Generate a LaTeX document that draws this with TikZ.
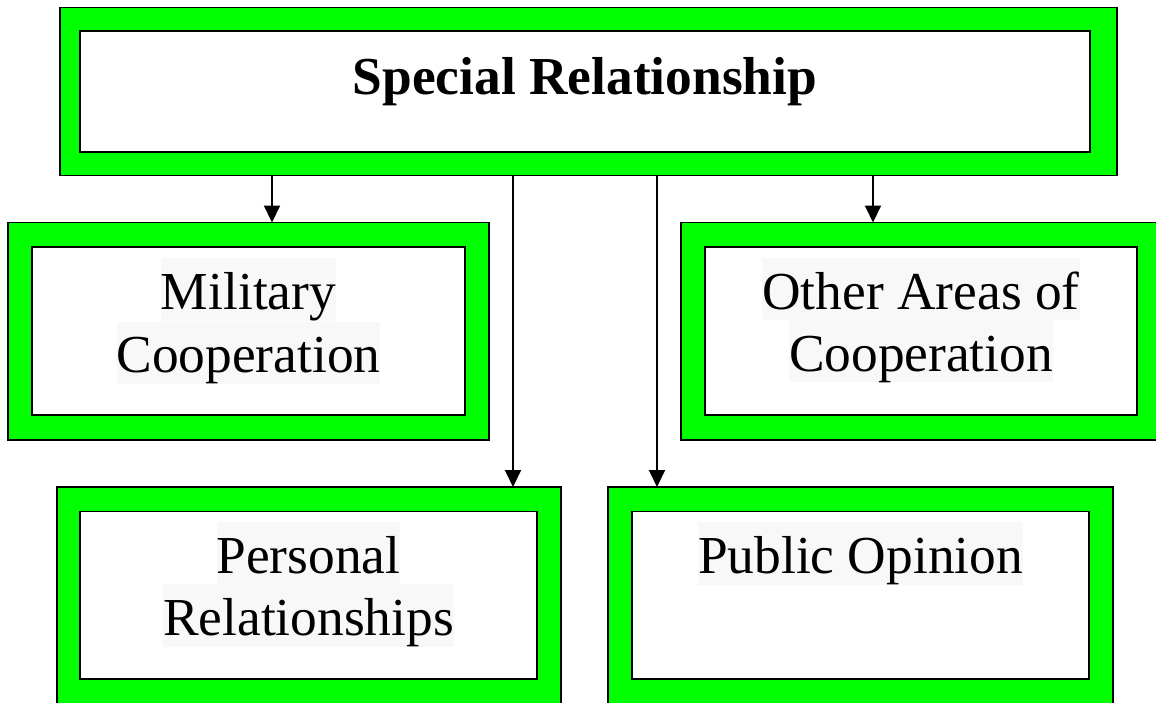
\documentclass[tikz,border=0pt]{standalone}
\usepackage{fontspec}
\setmainfont{Liberation Serif}
\usetikzlibrary{arrows.meta}
\definecolor{boxgreen}{RGB}{0,255,0}
\definecolor{textbg}{RGB}{248,248,248}
\newcommand\hlline[1]{{\setlength\fboxsep{0pt}\colorbox{textbg}{\rule[-11pt]{0pt}{62pt}#1}}}
\tikzset{
  frame/.style={draw=black, line width=1.6pt, fill=boxgreen, rectangle, inner sep=0pt, outer sep=0pt},
  innerbox/.style={draw=black, line width=1.6pt, fill=white, rectangle, inner sep=0pt, outer sep=0pt},
  boxtext/.style={inner sep=0pt, outer sep=0pt, align=center, font=\fontsize{53.4}{62}\selectfont},
  arr/.style={line width=2pt, -{Triangle[length=17pt,width=16pt]}}
}
\begin{document}
\begin{tikzpicture}[x=1pt,y=-1pt]
\useasboundingbox (0,0) rectangle (1156,702);
\clip (0,0) rectangle (1156,702);
% top box
\node[frame, minimum width=1057pt, minimum height=168pt] (sr) at (588.5,91.5) {};
\node[innerbox, minimum width=1010pt, minimum height=121pt] (srin) at (585,91.5) {};
\node[inner sep=0pt, anchor=base, font=\fontsize{53.4}{62}\selectfont\bfseries] (srt) at (585,94) {Special Relationship};
% military
\node[frame, minimum width=481pt, minimum height=217.5pt] (mil) at (248.5,331.25) {};
\node[innerbox, minimum width=433pt, minimum height=168pt] (milin) at (248.5,331) {};
\node[boxtext, anchor=north] (milt) at (248.5,258) {\hlline{Military}\\\hlline{Cooperation}};
% other areas
\node[frame, minimum width=480pt, minimum height=217.5pt] (oth) at (921,331.25) {};
\node[innerbox, minimum width=432pt, minimum height=168pt] (othin) at (921,331) {};
\node[boxtext, anchor=north] (otht) at (921,258) {\hlline{Other Areas of}\\\hlline{Cooperation}};
% personal
\node[frame, minimum width=504pt, minimum height=220pt] (per) at (309,597) {};
\node[innerbox, minimum width=457pt, minimum height=167.5pt] (perin) at (308.5,595.25) {};
\node[boxtext, anchor=north] (pert) at (308.5,522.3) {\hlline{Personal}\\\hlline{Relationships}};
% public
\node[frame, minimum width=505pt, minimum height=220pt] (pub) at (860.5,597) {};
\node[innerbox, minimum width=457pt, minimum height=167.5pt] (pubin) at (860.5,595.25) {};
\node[boxtext, anchor=north] (pubt) at (860.5,522.3) {\hlline{Public Opinion}};
% arrow columns
\coordinate (c1) at (272,0);
\coordinate (c2) at (513,0);
\coordinate (c3) at (657,0);
\coordinate (c4) at (873,0);
\draw[arr] (c1 |- sr.south) -- (c1 |- mil.north);
\draw[arr] (c2 |- sr.south) -- (c2 |- per.north);
\draw[arr] (c3 |- sr.south) -- (c3 |- pub.north);
\draw[arr] (c4 |- sr.south) -- (c4 |- oth.north);
\end{tikzpicture}
\end{document}
